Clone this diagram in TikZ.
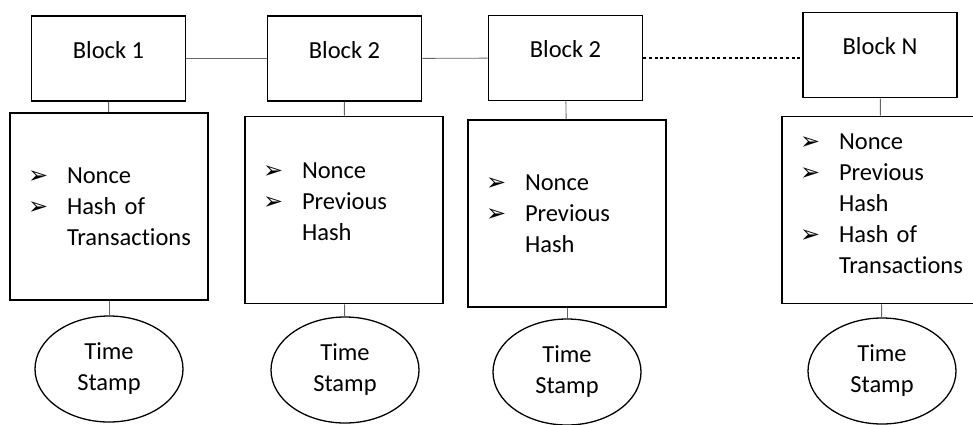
\documentclass[tikz,border=0pt]{standalone}
\usepackage{fontspec}
\setmainfont{Carlito}[RawFeature={-liga;-clig}]
\newfontfamily\symfont{DejaVu Sans}
\usetikzlibrary{shapes.geometric}

\newcommand{\bul}{\makebox[39pt][l]{\fontsize{24}{24}\symfont ➢}}
\newcommand{\ind}{\hspace*{39pt}}

\begin{document}
\begin{tikzpicture}[x=1pt, y=-1pt, font=\fontsize{24.5}{31}\selectfont,
    head/.style={draw, line width=1.6pt, minimum width=154pt, minimum height=85pt, inner sep=0pt, text height=16pt, text depth=17pt},
    body/.style={draw, line width=1.6pt, minimum width=198pt, minimum height=187pt, inner xsep=18pt, text width=162pt, align=left},
    stamp/.style={draw, ellipse, line width=1.3pt, minimum width=148pt, minimum height=106pt, inner sep=0pt, align=center},
    link/.style={draw=black!60, line width=0.9pt}]
    \useasboundingbox (0,0) rectangle (973,424);
    \clip (0,0) rectangle (973,424);

    % Block boxes
    \node[head] (b1) at (108.5,58.5) {Block 1};
    \node[head] (b2) at (344.5,58.5) {Block 2};
    \node[head] (b3) at (565.5,58) {Block 2};
    \node[head] (bn) at (880,55) {Block N};

    % Contents
    \node[body] (d1) at (109,206.5) {\bul Nonce\\ \bul \mbox{Hash of}\\ \ind\mbox{Transactions}};
    \node[body] (d2) at (344,210) {\bul Nonce\\ \bul Previous\\ \ind Hash\\[-15pt]\mbox{}};
    \node[body] (d3) at (567,213.5) {\bul Nonce\\ \bul Previous\\ \ind Hash};
    \node[body] (dn) at (881,210) {\bul Nonce\\ \bul Previous\\ \ind Hash\\ \bul \mbox{Hash of}\\ \ind\mbox{Transactions}\\[-19pt]\mbox{}};

    % Time stamps
    \node[stamp] (t1) at (109,369) {Time\\Stamp};
    \node[stamp] (t2) at (345,370) {Time\\Stamp};
    \node[stamp] (t3) at (567,372) {Time\\Stamp};
    \node[stamp] (tn) at (882,371) {Time\\Stamp};

    % Chain
    \draw[link] (b1) -- (b2);
    \draw[link] (b2) -- (b3);
    \draw[line width=2.8pt, dash pattern=on 3pt off 2.7pt] (b3.east) -- (b3.east -| bn.west);

    % Columns
    \foreach \i in {1,2,3,n} {
        \draw[link] (b\i) -- (d\i);
        \draw[link] (d\i) -- (t\i);
    }
\end{tikzpicture}
\end{document}
